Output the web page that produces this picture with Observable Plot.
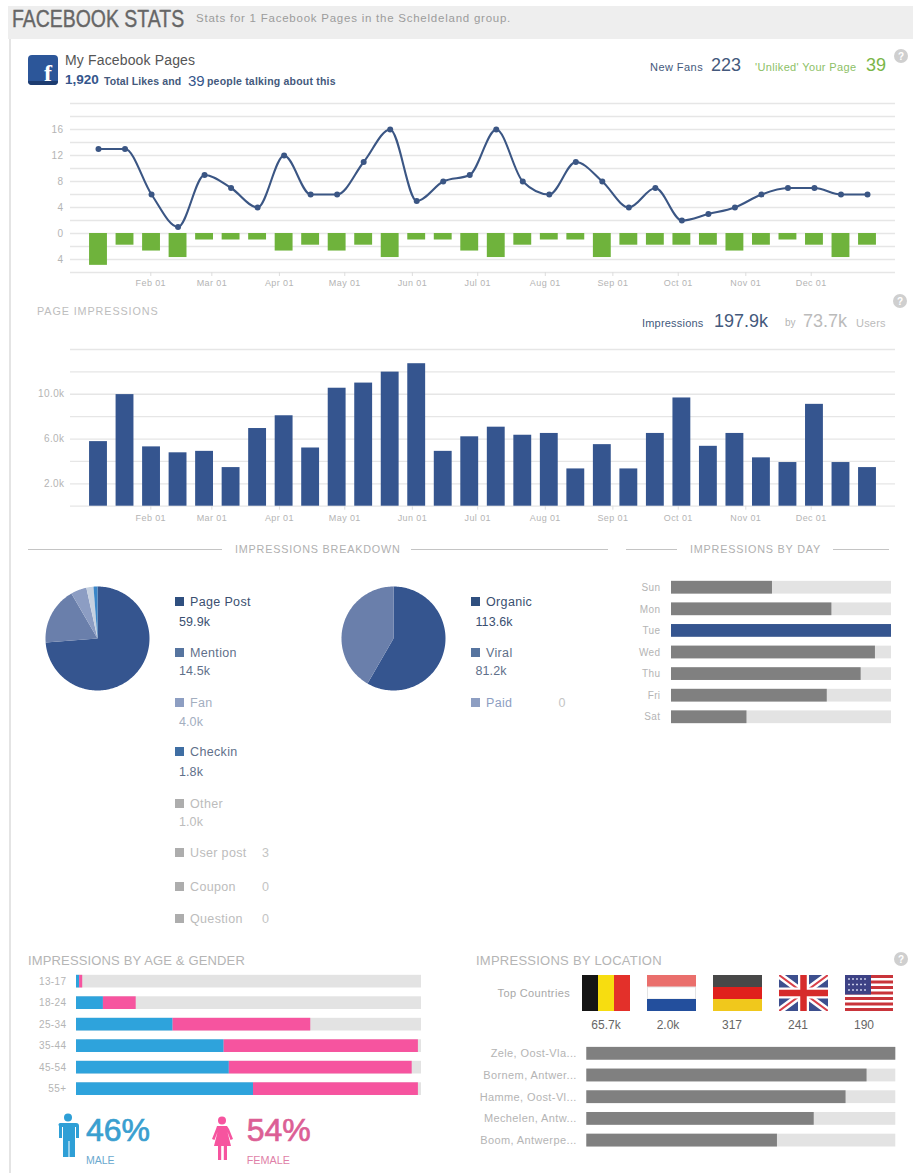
<!DOCTYPE html>
<html><head><meta charset="utf-8">
<script src="https://cdn.jsdelivr.net/npm/d3@7"></script>
<script src="https://cdn.jsdelivr.net/npm/@observablehq/plot@0.6"></script>
<style>
html,body{margin:0;padding:0;background:#fff;}
#page{position:relative;width:913px;height:1173px;overflow:hidden;font-family:"Liberation Sans",Arial,sans-serif;background:#fff;}
.t{position:absolute;white-space:nowrap;line-height:1;}
.p{position:absolute;}
.p svg{display:block;background:transparent;overflow:visible;}
.p svg text{letter-spacing:.4px;}
.box{position:absolute;}
</style></head><body><div id="page"></div>
<script>
// ---------- data ----------
const periods = ["2013-01-08T00","2013-01-20T04","2013-02-01T08","2013-02-13T12","2013-02-25T16","2013-03-09T20","2013-03-22T00","2013-04-03T04","2013-04-15T08","2013-04-27T12","2013-05-09T16","2013-05-21T20","2013-06-03T00","2013-06-15T04","2013-06-27T08","2013-07-09T12","2013-07-21T16","2013-08-02T20","2013-08-15T00","2013-08-27T04","2013-09-08T08","2013-09-20T12","2013-10-02T16","2013-10-14T20","2013-10-27T00","2013-11-08T04","2013-11-20T08","2013-12-02T12","2013-12-14T16","2013-12-26T20"];
const newFans = [13,13,6,1,9,7,4,12,6,6,11,16,5,8,9,16,8,6,11,8,4,7,2,3,4,6,7,7,6,6];
const unliked = [-4.9,-1.8,-2.7,-3.7,-1,-1,-1,-2.7,-1.8,-2.7,-1.8,-3.7,-1,-1,-2.7,-3.7,-1.8,-1,-1,-3.7,-1.8,-1.8,-1.8,-1.8,-2.7,-1.8,-1,-1.8,-3.7,-1.8];
const impressions = [5.77,9.97,5.3,4.77,4.9,3.45,6.94,8.08,5.2,10.54,11,11.98,12.73,4.9,6.2,7.06,6.34,6.5,3.33,5.5,3.33,6.5,9.67,5.35,6.5,4.32,3.9,9.1,3.9,3.45];
const monthTicks = ["2013-02-01","2013-03-01","2013-04-01","2013-05-01","2013-06-01","2013-07-01","2013-08-01","2013-09-01","2013-10-01","2013-11-01","2013-12-01"];
const fansGrid = [-6,-4,-2,0,2,4,6,8,10,12,14,16,18,20];
const fansLabels = [-4,0,4,8,12,16];
const imprGrid = [0,2,4,6,8,10,12,14];
const imprLabels = [2,6,10];

const postTypes = ["Page Post","Mention","Fan","Checkin","Other"];
const postValues = [59.9,14.5,4.0,1.8,1.0];
const postColors = ["#35558f","#6a7fab","#8c9dc3","#c6d1e0","#3a86c8"];
const reachTypes = ["Organic","Viral"];
const reachValues = [113.6,81.2];
const reachColors = ["#35558f","#6a7fab"];

const days = ["Sun","Mon","Tue","Wed","Thu","Fri","Sat"];
const dayShare = [.459,.729,1,.927,.862,.708,.343];

const ages = ["13-17","18-24","25-34","35-44","45-54","55+"];
const maleShare = [.009,.078,.28,.428,.443,.513];
const femaleShare = [.009,.095,.399,.563,.53,.478];

const cities = ["Zele, Oost-Vla...","Bornem, Antwer...","Hamme, Oost-Vl...","Mechelen, Antw...","Boom, Antwerpe..."];
const cityShare = [1,.907,.839,.736,.617];
const countryCounts = ["65.7k","2.0k","317","241","190"];

// ---------- helpers ----------
const page = document.getElementById("page");
const FONT = '"Liberation Sans",Arial,sans-serif';
const BLUE = "#35558f", AX = "#b4b4b4", GRID = "#e6e6e6";
function T(x,y,s,o={}){ // x = anchor, y = vertical centre
  const d=document.createElement("div");d.className="t";d.textContent=s;
  const a=o.anchor||"start";
  d.style.cssText=`left:${x}px;top:${y}px;font-size:${o.size||11}px;color:${o.color||"#666"};font-weight:${o.weight||"normal"};letter-spacing:${o.ls||0}px;`+
   `transform:translate(${a==="end"?"-100%":a==="middle"?"-50%":"0"},-50%) ${o.sx?`scaleX(${o.sx})`:""};transform-origin:left center;`+(o.stroke?`-webkit-text-stroke:${o.stroke};`:"");
  page.appendChild(d);return d;
}
function B(x,y,w,h,c){const d=document.createElement("div");d.className="box";d.style.cssText=`left:${x}px;top:${y}px;width:${w}px;height:${h}px;background:${c};`;page.appendChild(d);}
function S(x,y,w,h,inner){const d=document.createElement("div");d.className="box";d.style.cssText=`left:${x}px;top:${y}px;width:${w}px;height:${h}px;`;d.innerHTML=`<svg width="${w}" height="${h}" viewBox="0 0 ${w} ${h}" style="display:block">${inner}</svg>`;page.appendChild(d);}
function P(x,y,chart){const d=document.createElement("div");d.className="p";d.style.left=x+"px";d.style.top=y+"px";d.appendChild(chart);page.appendChild(d);}
function help(cx,cy){S(cx-8,cy-8,16,16,`<circle cx="8" cy="8" r="7" fill="#cfcfcf"/><text x="8" y="11.5" text-anchor="middle" font-size="10" font-weight="bold" fill="#fff" font-family="Liberation Sans">?</text>`);}

const dates = periods.map(s=>new Date(s+":00:00Z"));
const ticks = monthTicks.map(s=>new Date(s+"T00:00:00Z"));
const halfBar = 4.1*864e5;
const rows = dates.map((date,i)=>({date,fans:newFans[i],un:unliked[i],imp:impressions[i]}));
const xScale = {type:"utc",domain:[dates[0],dates[29]],range:[98,867]};
const style = {fontFamily:FONT,fontSize:"10px",background:"transparent"};

// ---------- chrome ----------
B(8,6,905,33,"#eeeeee");
B(9,39,1.5,1134,"#e4e4e4");
T(12,19,"FACEBOOK STATS",{size:24,color:"#666",sx:.81,stroke:".4px #666"});
T(196,19,"Stats for 1 Facebook Pages in the Scheldeland group.",{size:11.5,color:"#9c9c9c",ls:.76});

S(28,55,30,30,`<rect x="0" y="0" width="30" height="30" rx="4" fill="#2c5699"/><path d="M0 26h30v0a4 4 0 0 1-4 4H4a4 4 0 0 1-4-4z" fill="#1d3c70"/><text x="20" y="26" text-anchor="middle" font-size="24" font-weight="bold" fill="#fff" font-family="Liberation Serif">f</text>`);
T(65,60,"My Facebook Pages",{size:14,color:"#555",ls:.15});
T(65,80,"1,920",{size:13.5,color:"#34558b",weight:"bold"});
T(104,81,"Total Likes and",{size:10.5,color:"#44597c",weight:"bold",ls:.1});
T(188,80,"39",{size:15,color:"#34558b"});
T(207,81,"people talking about this",{size:10.5,color:"#44597c",weight:"bold",ls:.2});
T(650,67,"New Fans",{size:11,color:"#44597c",ls:.45});
T(711,65,"223",{size:18,color:"#44597c"});
T(755,67,"'Unliked' Your Page",{size:11,color:"#8dbf67",ls:.35});
T(866,65,"39",{size:18,color:"#7ab648"});
help(901,56);

T(37,311,"PAGE IMPRESSIONS",{size:10.8,color:"#bdbdbd",ls:.9});
T(642,323,"Impressions",{size:11,color:"#44597c",ls:.2});
T(714,321,"197.9k",{size:18,color:"#44597c"});
T(785,323,"by",{size:10,color:"#b5b5b5"});
T(803,321,"73.7k",{size:18,color:"#bbb"});
T(856,323,"Users",{size:11,color:"#bbb",ls:.2});
help(900,301);

function sectionHead(x0,x1,tx0,tx1,s){
  B(x0,548.5,tx0-13-x0,1.2,"#c4c4c4");B(tx1+11,548.5,x1-tx1-11,1.2,"#c4c4c4");
  T(tx0,549,s,{size:10.8,color:"#b0b0b0",ls:.8});
}
sectionHead(28,608,235,400,"IMPRESSIONS BREAKDOWN");
sectionHead(626,889,690,822,"IMPRESSIONS BY DAY");

// ---------- fans chart ----------
P(0,95,Plot.plot({width:913,height:197,marginLeft:70,marginRight:18,marginTop:8,marginBottom:20,style,
  x:{...xScale,axis:null},y:{domain:[-6,20],axis:null},
  marks:[
    Plot.gridY(fansGrid,{stroke:GRID,strokeOpacity:1,strokeWidth:1.3}),
    Plot.axisY(fansLabels,{anchor:"left",tickSize:0,tickPadding:7,label:null,color:AX,tickFormat:Math.abs}),
    Plot.axisX(ticks,{anchor:"bottom",tickSize:4,tickPadding:3,fontSize:9,label:null,color:AX,tickFormat:d3.utcFormat("%b %d"),stroke:"#ddd"}),
    Plot.rect(rows,{x1:d=>new Date(+d.date-halfBar),x2:d=>new Date(+d.date+halfBar),y1:0,y2:"un",fill:"#6fb33c"}),
    Plot.line(rows,{x:"date",y:"fans",curve:"monotone-x",stroke:"#3b5684",strokeWidth:2.1}),
    Plot.dot(rows,{x:"date",y:"fans",r:3,fill:"#3b5684"})
  ]}));

// ---------- impressions chart ----------
P(0,341,Plot.plot({width:913,height:185,marginLeft:70,marginRight:18,marginTop:8,marginBottom:20.3,style,
  x:{...xScale,axis:null},y:{domain:[0,14],axis:null},
  marks:[
    Plot.gridY(imprGrid,{stroke:GRID,strokeOpacity:1,strokeWidth:1.3}),
    Plot.axisY(imprLabels,{anchor:"left",tickSize:0,tickPadding:6,label:null,color:AX,tickFormat:d=>d+".0k"}),
    Plot.axisX(ticks,{anchor:"bottom",tickSize:4,tickPadding:4,fontSize:9,label:null,color:AX,tickFormat:d3.utcFormat("%b %d"),stroke:"#ddd"}),
    Plot.rect(rows,{x1:d=>new Date(+d.date-halfBar),x2:d=>new Date(+d.date+halfBar),y1:0,y2:"imp",fill:BLUE})
  ]}));

// ---------- pies ----------
function pie(cx,cy,names,values,colors){
  const r=52, arcs=d3.pie().sort(null)(values);
  const pts=[];
  arcs.forEach((a,i)=>{
    pts.push({name:names[i],x:0,y:0});
    const n=Math.max(2,Math.ceil((a.endAngle-a.startAngle)*40));
    for(let k=0;k<=n;k++){const t=a.startAngle+(a.endAngle-a.startAngle)*k/n;pts.push({name:names[i],x:Math.sin(t),y:Math.cos(t)});}
  });
  P(cx-r,cy-r,Plot.plot({width:2*r,height:2*r,margin:0,style,
    x:{domain:[-1,1],axis:null},y:{domain:[-1,1],axis:null},
    color:{domain:names,range:colors},
    marks:[Plot.line(pts,{x:"x",y:"y",z:"name",fill:"name",stroke:null,curve:"linear-closed"})]}));
}
pie(97,638,postTypes,postValues,postColors);
pie(393,638,reachTypes,reachValues,reachColors);

// ---------- breakdown legends ----------
const legendA = [
  ["Page Post","59.9k",601.7,621.7,"#2f4f7f","#3a4f70"],
  ["Mention","14.5k",653,671,"#56749f","#5f708a"],
  ["Fan","4.0k",702.7,722,"#8d9ec2","#a3aebf"],
  ["Checkin","1.8k",752,772,"#3f6ea3","#5f708a"],
  ["Other","1.0k",803.7,821.7,"#adadad","#bcbcbc"],
  ["User post","3",853,853,"#adadad","#bcbcbc"],
  ["Coupon","0",887,887,"#adadad","#bcbcbc"],
  ["Question","0",919,919,"#adadad","#bcbcbc"]];
const legendB = [
  ["Organic","113.6k",601.7,621.7,"#2f4f7f","#3a4f70"],
  ["Viral","81.2k",653,671,"#56749f","#5f708a"],
  ["Paid","0",702.7,702.7,"#8d9ec2","#8d9ec2"]];
function legend(rowsL,xs,xt,xv,xvInline){
  rowsL.forEach(([n,v,y1,y2,sw,c])=>{
    B(xs,y1-5,9,9,sw);
    T(xt,y1,n,{size:12.5,color:c,ls:.35});
    const inline=y1===y2;
    T(inline?xvInline:xv,y2,v,{size:12.5,color:inline?"#c4c4c4":c,ls:.1});
  });
}
legend(legendA,175,190,179,262);
legend(legendB,471,486,475.5,558.5);

// ---------- by day ----------
P(610,572.1,Plot.plot({width:290,height:160,marginLeft:61,marginRight:9,marginTop:0,marginBottom:0,style,
  x:{domain:[0,1],axis:null},y:{domain:days,padding:.41,round:false,axis:null},
  marks:[
    Plot.axisY({anchor:"left",tickSize:0,tickPadding:11,label:null,color:AX}),
    Plot.barX(days,{y:d=>d,x1:0,x2:1,fill:"#e3e3e3"}),
    Plot.barX(days.map((d,i)=>({d,v:dayShare[i]})),{y:"d",x:"v",fill:r=>r.v===1?BLUE:"#808080"})
  ]}));

// ---------- age & gender ----------
T(28,960,"IMPRESSIONS BY AGE & GENDER",{size:13,color:"#b5b5b5",ls:.15});
const ageLong = ages.flatMap((a,i)=>[{a,g:"Male",v:maleShare[i]},{a,g:"Female",v:femaleShare[i]}]);
P(0,966.2,Plot.plot({width:440,height:137.8,marginLeft:76,marginRight:19,marginTop:0,marginBottom:0,style,
  x:{domain:[0,1],axis:null},y:{domain:ages,padding:.41,round:false,axis:null},
  color:{domain:["Male","Female"],range:["#2ea3dc","#f6549f"]},
  marks:[
    Plot.axisY({anchor:"left",tickSize:0,tickPadding:10,label:null,color:AX}),
    Plot.barX(ages,{y:d=>d,x1:0,x2:1,fill:"#e3e3e3"}),
    Plot.barX(ageLong,{y:"a",x:"v",fill:"g",order:null})
  ]}));
S(57,1113,22,44,`<g fill="#2e9fd6"><circle cx="11" cy="4.5" r="4"/><path d="M3 10h16a3 3 0 0 1 3 3v12h-3V14h-1v30h-5.5V28h-1v16H6V14H5v11H2V13a2 2 0 0 1 1-3z"/></g>`);
T(86,1130,"46%",{size:32,color:"#3a9fd0",stroke:".7px #3a9fd0"});
T(86,1160,"MALE",{size:10.5,color:"#6aa9cf"});
S(211,1116,22,44,`<g fill="#f6549f"><circle cx="11" cy="4.5" r="4"/><path d="M6 10h10l2 3 4 10-2.5 1-3-8 3.5 14h-4v16h-3.2V30h-2.6v16H7V30H3l3.5-14-3 8L1 23l4-10z"/></g>`);
T(246.7,1130,"54%",{size:32,color:"#dc5f95",stroke:".7px #dc5f95"});
T(246.7,1160,"FEMALE",{size:10.8,color:"#e07fa8"});

// ---------- location ----------
T(476,960,"IMPRESSIONS BY LOCATION",{size:13,color:"#b5b5b5",ls:.25});
help(901,959);
T(570,993,"Top Countries",{size:11,color:"#a8a8a8",anchor:"end",ls:.35});
S(582,975,48,36,`<rect width="16" height="36" fill="#151515"/><rect x="16" width="16" height="36" fill="#f7dd10"/><rect x="32" width="16" height="36" fill="#e3302a"/>`);
S(647,975,49,36,`<rect width="49" height="12" fill="#ea6f6c"/><rect x=".5" y="12" width="48" height="12" fill="#fff" stroke="#e3e3e3"/><rect y="24" width="49" height="12" fill="#234f9d"/>`);
S(713,975,49,36,`<rect width="49" height="12" fill="#484848"/><rect y="12" width="49" height="12" fill="#e0201c"/><rect y="24" width="49" height="12" fill="#f0c81c"/>`);
S(779,975,49,36,`<rect width="49" height="36" fill="#3d4f8e"/><path d="M0 0L49 36M49 0L0 36" stroke="#fff" stroke-width="7"/><path d="M0 0L49 36M49 0L0 36" stroke="#d8404a" stroke-width="2"/><path d="M24.5 0V36M0 18H49" stroke="#fff" stroke-width="11"/><path d="M24.5 0V36M0 18H49" stroke="#d62b2b" stroke-width="6.5"/>`);
S(845,975,48,36,`<rect width="48" height="36" fill="#fff"/><g fill="#c9343a"><rect y="0" width="48" height="3"/><rect y="5.5" width="48" height="3"/><rect y="11" width="48" height="3"/><rect y="16.5" width="48" height="3"/><rect y="22" width="48" height="3"/><rect y="27.5" width="48" height="3"/><rect y="33" width="48" height="3"/></g><rect width="26" height="19.5" fill="#3d4285"/><path d="M3 4h20M3 9.5h20M3 15h20" stroke="#c9cde8" stroke-width="1.6" stroke-dasharray="2 2"/>`);
[606,668,732,798,864].forEach((x,i)=>T(x,1025,countryCounts[i],{size:12,color:"#666",anchor:"middle"}));

P(440,1038,Plot.plot({width:473,height:117.4,marginLeft:146.3,marginRight:17.7,marginTop:0,marginBottom:0,style,
  x:{domain:[0,1],axis:null},y:{domain:cities,padding:.41,round:false,axis:null},
  marks:[
    Plot.axisY({anchor:"left",tickSize:0,tickPadding:10,fontSize:11,label:null,color:AX}),
    Plot.barX(cities,{y:d=>d,x1:0,x2:1,fill:"#e3e3e3"}),
    Plot.barX(cities.map((c,i)=>({c,v:cityShare[i]})),{y:"c",x:"v",fill:"#808080"})
  ]}));
</script></body></html>
